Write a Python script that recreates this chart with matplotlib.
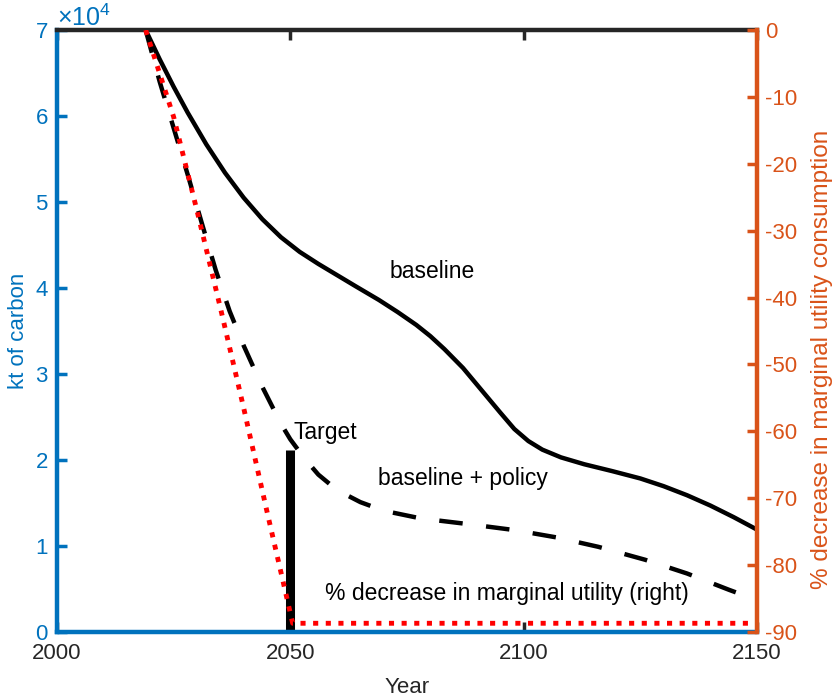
import numpy as np
import matplotlib
matplotlib.use("Agg")
from matplotlib import pyplot as plt
from matplotlib import rc

# emissions, kt of carbon
base_years = [2019, 2022, 2025, 2028, 2032, 2036, 2040, 2044, 2048, 2052, 2056, 2060, 2064,
              2069, 2073, 2077, 2080, 2083, 2087, 2091, 2095, 2098, 2101, 2104, 2108, 2113,
              2119, 2125, 2130, 2135, 2140, 2145, 2150]
base_kt = [70000, 66600, 63400, 60400, 56700, 53400, 50500, 48000, 45900, 44200, 42800, 41500, 40200,
           38600, 37200, 35700, 34400, 32900, 30700, 28100, 25500, 23600, 22200, 21200, 20300, 19500,
           18700, 17850, 16950, 15900, 14700, 13350, 11900]

policy_years = [2019, 2022, 2025, 2028, 2031, 2034, 2037, 2040, 2044, 2048, 2050, 2053, 2056, 2060,
                2065, 2070, 2078, 2088, 2098, 2107, 2116, 2126, 2135, 2144, 2150]
policy_kt = [70000, 64000, 58600, 53200, 47600, 42100, 37300, 33300, 28500, 24200, 22400, 20200, 18300,
             16500, 15100, 14100, 13200, 12550, 11850, 11000, 9900, 8400, 6800, 4900, 3700]

# % decrease in marginal utility of consumption (right axis)
mu_years = [2019, 2025, 2030, 2035, 2040, 2045, 2050.5, 2100, 2150]
mu_pct = [0, -13, -27, -41.5, -56.5, -72, -88.7, -88.7, -88.7]

target_year = 2050
target_kt = 21200

blue = '#0072BD'
orange = '#D95319'
dark = '#262626'

rc('font', family=['Liberation Sans', 'DejaVu Sans'])
rc('font', size=16)
rc('axes', unicode_minus=False)
rc('mathtext', fontset='custom', rm='Liberation Sans', it='Liberation Sans')

fig = plt.figure(figsize=(8.33, 6.96), dpi=100)
ax = fig.add_axes([0.0684, 0.092, 0.8404, 0.8649])
ax2 = ax.twinx()

ax.plot(base_years, base_kt, 'k-', lw=3.2, solid_capstyle='butt', solid_joinstyle='round')
ax.plot(policy_years, policy_kt, 'k-', lw=3.2, dashes=(5.3, 5.3), dash_capstyle='butt')
ax.plot([target_year, target_year], [0, target_kt], 'k-', lw=6.5, solid_capstyle='butt')

ax2.plot(mu_years, mu_pct, color='red', lw=3.5, dashes=(1.05, 1.55), dash_capstyle='butt')

ax.set_xlim(2000, 2150)
ax.set_ylim(0, 70000)
ax2.set_ylim(-90, 0)
ax.set_xticks([2000, 2050, 2100, 2150])
ax.set_yticks(np.arange(0, 70001, 10000))
ax2.set_yticks(np.arange(-90, 1, 10))
ax.ticklabel_format(axis='y', style='sci', scilimits=(0, 0), useMathText=True)

for a in (ax, ax2):
    for s in a.spines.values():
        s.set_linewidth(3.2)
ax.spines['left'].set_color(blue)
ax.spines['bottom'].set_color(blue)
ax.spines['top'].set_color(dark)
ax2.spines['right'].set_color(orange)
ax2.spines['left'].set_visible(False)
ax2.spines['top'].set_visible(False)
ax2.spines['bottom'].set_visible(False)
ax.spines['right'].set_visible(False)

ax.tick_params(axis='x', direction='in', length=7, width=2.5, colors=dark, top=True, pad=8)
ax.tick_params(axis='y', direction='in', length=7, width=2.5, colors=blue, pad=6)
ax2.tick_params(axis='y', direction='in', length=7, width=2.5, colors=orange, pad=6)
ax.yaxis.get_offset_text().set_color(blue)
ax.yaxis.get_offset_text().set_fontsize(18)

ax.set_xlabel('Year', color=dark, labelpad=9)
ax.set_ylabel('kt of carbon', color=blue, labelpad=4)
ax2.set_ylabel('% decrease in marginal utility consumption', color=orange, fontsize=17.5)
ax2.yaxis.set_label_coords(1.077, 0.4535)

ax.text(2050.7, 23200, 'Target', va='center', ha='left', fontsize=16.5)
ax.text(2080.3, 41900, 'baseline', va='center', ha='center', fontsize=16.5)
ax.text(2087, 17900, 'baseline + policy', va='center', ha='center', fontsize=16.5)
ax.text(2057.4, 4500, '% decrease in marginal utility (right)', va='center', ha='left', fontsize=16.5)

fig.savefig('out.png', dpi=100)
